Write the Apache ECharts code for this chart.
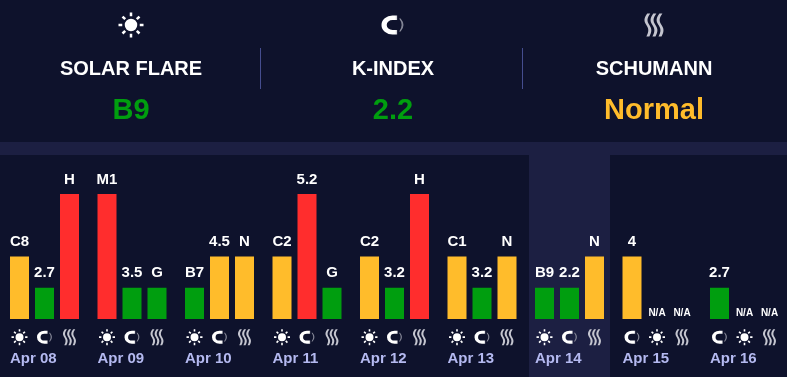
<!DOCTYPE html>
<html>
<head>
<meta charset="utf-8">
<style>
html, body { margin: 0; padding: 0; background: #0e122c; }
#chart { width: 787px; height: 377px; }
</style>
<script src="https://cdn.jsdelivr.net/npm/echarts@6/dist/echarts.min.js"></script>
</head>
<body>
<div id="chart"></div>
<script>
// data
var days = ['Apr 08', 'Apr 09', 'Apr 10', 'Apr 11', 'Apr 12', 'Apr 13', 'Apr 14', 'Apr 15', 'Apr 16'];
var solarText = ['C8', 'M1', 'B7', 'C2', 'C2', 'C1', 'B9', 'N/A', 'N/A'];
var solarLevel = [2, 4, 1, 2, 2, 2, 1, 0, 0];
var kText = ['2.7', '3.5', '4.5', '5.2', '3.2', '3.2', '2.2', '4', '2.7'];
var kLevel = [1, 1, 2, 4, 1, 1, 1, 2, 1];
var schumannText = ['H', 'G', 'N', 'G', 'H', 'N', 'N', 'N/A', 'N/A'];
var schumannLevel = [4, 1, 2, 1, 4, 2, 2, 0, 0];
var headerNames = ['SOLAR FLARE', 'K-INDEX', 'SCHUMANN'];
var headerValues = ['B9', '2.2', 'Normal'];

var GREEN = '#009e0f', YELLOW = '#ffbc2b', RED = '#ff2d2d';
var levelColors = { 0: GREEN, 1: GREEN, 2: YELLOW, 4: RED };
var headerColors = [GREEN, GREEN, YELLOW];

var sunPath = 'path://M12 6a6 6 0 1 0 0 12a6 6 0 1 0 0-12zM10.8 0h2.4v3.6h-2.4zM10.8 20.4h2.4v3.6h-2.4zM0 10.8h3.6v2.4h-3.6zM20.4 10.8h3.6v2.4h-3.6zM3 4.7l1.7-1.7 2.6 2.6-1.7 1.7zM19.3 3l1.7 1.7-2.6 2.6-1.7-1.7zM4.7 21l-1.7-1.7 2.6-2.6 1.7 1.7zM21 19.3l-1.7 1.7-2.6-2.6 1.7-1.7z';
var magnetPath = 'path://M10 0A9.5 9.5 0 0 0 10 19V14.5A5 5 0 0 1 10 4.5ZM10 0h4v4.5h-4zM10 14.5h4v4.5h-4zM17 3Q22 9.5 17 16h-1.2Q20 9.5 15.8 3z';
var wavesPath = 'path://M4 0C0 5 0 8 3 12C6 16 6 19 3 24L6.5 24C9.5 19 9.5 16 6.5 12C3.5 8 3.5 5 7.5 0ZM11 0C7 5 7 8 10 12C13 16 13 19 10 24L13.5 24C16.5 19 16.5 16 13.5 12C10.5 8 10.5 5 14.5 0ZM18 0C14 5 14 8 17 12C20 16 20 19 17 24L20.5 24C23.5 19 23.5 16 20.5 12C17.5 8 17.5 5 21.5 0Z';

var magnetFill = new echarts.graphic.LinearGradient(0, 0, 1, 0, [
    { offset: 0, color: '#ffffff' },
    { offset: 0.62, color: '#ffffff' },
    { offset: 0.78, color: '#9a9aa6' },
    { offset: 1, color: '#7a7e90' }
]);
var wavesFill = '#c4c5cf';

var icons = {
    solar: { path: sunPath, size: [16, 16], color: '#ffffff' },
    k: { path: magnetPath, size: [15, 13], color: magnetFill },
    schumann: { path: wavesPath, size: [13, 16], color: wavesFill }
};

var grids = [], xAxes = [], yAxes = [], series = [], titles = [];

days.forEach(function (day, i) {
    var solar = { kind: 'solar', text: solarText[i], level: solarLevel[i] };
    var k = { kind: 'k', text: kText[i], level: kLevel[i] };
    var schumann = { kind: 'schumann', text: schumannText[i], level: schumannLevel[i] };
    // 最后两天 k 排在最前
    var slots = solarLevel[i] === 0 ? [k, solar, schumann] : [solar, k, schumann];

    grids.push({ left: 7 + 87.5 * i, width: 75, top: 194, height: 156.25 });
    xAxes.push({ type: 'category', gridIndex: i, data: [0, 1, 2], show: false });
    yAxes.push({ type: 'value', gridIndex: i, min: -1, max: 4, show: false });

    series.push({
        type: 'bar',
        xAxisIndex: i,
        yAxisIndex: i,
        barWidth: 19,
        animation: false,
        silent: true,
        data: slots.map(function (s) {
            var na = s.level === 0;
            return {
                value: s.level,
                itemStyle: { color: levelColors[s.level] },
                label: {
                    show: true,
                    position: 'top',
                    distance: na ? 1 : 7,
                    formatter: s.text,
                    color: '#ffffff',
                    fontFamily: 'Liberation Sans',
                    fontWeight: 'bold',
                    fontSize: na ? 10 : 15
                }
            };
        })
    });

    series.push({
        type: 'scatter',
        xAxisIndex: i,
        yAxisIndex: i,
        animation: false,
        silent: true,
        data: slots.map(function (s, idx) {
            var ic = icons[s.kind];
            return {
                value: [idx, -0.58],
                symbol: ic.path,
                symbolSize: ic.size,
                itemStyle: { color: ic.color, opacity: 1 }
            };
        })
    });

    titles.push({
        text: day,
        left: 10 + 87.5 * i,
        top: 351,
        padding: 0,
        textStyle: { color: '#b4b9f0', fontFamily: 'Liberation Sans', fontWeight: 'bold', fontSize: 15 }
    });
});

// 顶部三个图标
var headerX = [131, 393, 654];
var headerIcons = [
    { path: sunPath, size: [25, 25], color: '#ffffff' },
    { path: magnetPath, size: [22, 19], color: magnetFill },
    { path: wavesPath, size: [19, 23], color: wavesFill }
];
var h = days.length;
grids.push({ left: 0.25, width: 784.5, top: 0, height: 50 });
xAxes.push({ type: 'category', gridIndex: h, data: headerNames, show: false });
yAxes.push({ type: 'value', gridIndex: h, min: 0, max: 2, show: false });
series.push({
    type: 'scatter',
    xAxisIndex: h,
    yAxisIndex: h,
    animation: false,
    silent: true,
    data: headerIcons.map(function (ic, idx) {
        return {
            value: [idx, 1],
            symbol: ic.path,
            symbolSize: ic.size,
            itemStyle: { color: ic.color, opacity: 1 }
        };
    })
});

headerX.forEach(function (x, i) {
    titles.push({
        text: headerNames[i],
        left: x,
        top: 59,
        padding: 0,
        textAlign: 'center',
        textStyle: { color: '#ffffff', fontFamily: 'Liberation Sans', fontWeight: 'bold', fontSize: 20 }
    });
    titles.push({
        text: headerValues[i],
        left: x,
        top: 96,
        padding: 0,
        textAlign: 'center',
        textStyle: { color: headerColors[i], fontFamily: 'Liberation Sans', fontWeight: 'bold', fontSize: 29 }
    });
});

var graphics = [
    { type: 'rect', z: -10, shape: { x: 0, y: 142, width: 787, height: 13 }, style: { fill: '#1c1f42' } },
    { type: 'rect', z: -10, shape: { x: 529, y: 155, width: 81, height: 222 }, style: { fill: '#1c1f42' } },
    { type: 'rect', z: -9, shape: { x: 260, y: 48, width: 1, height: 41 }, style: { fill: '#454d8f' } },
    { type: 'rect', z: -9, shape: { x: 522, y: 48, width: 1, height: 41 }, style: { fill: '#454d8f' } }
];

var chart = echarts.init(document.getElementById('chart'));
chart.setOption({
    backgroundColor: '#0e122c',
    animation: false,
    title: titles,
    grid: grids,
    xAxis: xAxes,
    yAxis: yAxes,
    series: series,
    graphic: graphics
});
</script>
</body>
</html>
